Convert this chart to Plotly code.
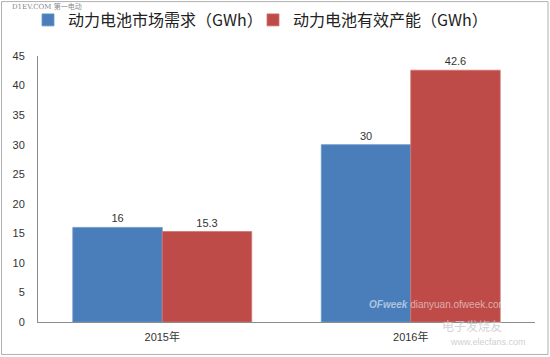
import plotly.graph_objects as go

categories = ["2015年", "2016年"]
demand = [16, 30]
capacity = [15.3, 42.6]
series_names = ["动力电池市场需求（GWh）", "动力电池有效产能（GWh）"]
y_ticks = [0, 5, 10, 15, 20, 25, 30, 35, 40, 45]

BLUE = "#4A7EBB"
RED = "#BE4B48"
FONT = "Liberation Sans, Noto Sans CJK SC, sans-serif"

fig = go.Figure()
fig.add_trace(go.Bar(
    x=categories, y=demand, name=series_names[0],
    marker=dict(color=BLUE, line=dict(color="#6d95c8", width=0.8)),
    text=[str(v) for v in demand], textposition="outside",
    textfont=dict(size=11, color="#333333", family=FONT),
    cliponaxis=False,
))
fig.add_trace(go.Bar(
    x=categories, y=capacity, name=series_names[1],
    marker=dict(color=RED, line=dict(color="#cf7471", width=0.8)),
    text=[str(v) for v in capacity], textposition="outside",
    textfont=dict(size=11, color="#333333", family=FONT),
    cliponaxis=False,
))

L, R, T, B = 38, 15, 56, 34.5
W, H = 550, 357
pw, ph = W - L - R, H - T - B

def px_x(p):
    return (p - L) / pw

def px_y(p):
    return (H - B - p) / ph

fig.update_layout(
    width=W, height=H,
    margin=dict(l=L, r=R, t=T, b=B, pad=0, autoexpand=False),
    paper_bgcolor="white", plot_bgcolor="white",
    barmode="group", bargap=0.28, bargroupgap=0,
    font=dict(family=FONT, color="#333333"),
    showlegend=True,
    legend=dict(
        orientation="h", xref="container", yref="container",
        x=28 / W, xanchor="left", y=1 - 3 / H, yanchor="top",
        font=dict(size=16, color="#222222", family="Noto Sans CJK SC, sans-serif"),
        itemwidth=30, entrywidth=180, traceorder="normal",
        bgcolor="rgba(0,0,0,0)",
    ),
    xaxis=dict(
        showline=True, linecolor="#8c8c8c", linewidth=1,
        ticks="", tickfont=dict(size=11, color="#333333"),
        showgrid=False, zeroline=False, ticklabelstandoff=5,
    ),
    yaxis=dict(
        range=[0, 45], tickvals=y_ticks, showline=True, linecolor="#8c8c8c",
        linewidth=1, ticks="", tickfont=dict(size=11, color="#333333"),
        showgrid=False, zeroline=False, ticklabelstandoff=10,
    ),
    shapes=[dict(
        type="rect", xref="paper", yref="paper",
        x0=px_x(1.5), x1=px_x(548), y0=px_y(355), y1=px_y(1.5),
        line=dict(color="#b0b0b0", width=1), fillcolor="rgba(0,0,0,0)",
        layer="below",
    )],
    annotations=[
        dict(text="D1EV.COM 第一电动", xref="paper", yref="paper",
             x=px_x(10), y=px_y(6), xanchor="left", yanchor="middle",
             showarrow=False, font=dict(size=7, color="#8a8a8a",
                                        family="DejaVu Serif, Noto Sans CJK SC")),
        dict(text="<i><b>OFweek</b></i> dianyuan.ofweek.com", xref="paper", yref="paper",
             x=px_x(367), y=px_y(305), xanchor="left", yanchor="middle",
             showarrow=False, font=dict(size=10, color="rgba(255,255,255,0.55)")),
        dict(text="电子发烧友", xref="paper", yref="paper",
             x=px_x(472), y=px_y(327), xanchor="center", yanchor="middle",
             showarrow=False, font=dict(size=12, color="rgba(200,200,200,0.8)")),
        dict(text="www.elecfans.com", xref="paper", yref="paper",
             x=px_x(488), y=px_y(343), xanchor="center", yanchor="middle",
             showarrow=False, font=dict(size=9, color="rgba(200,200,200,0.9)")),
    ],
)

fig.write_html("out.html", config={"displayModeBar": False},
               post_script="document.body.style.margin='0';")
